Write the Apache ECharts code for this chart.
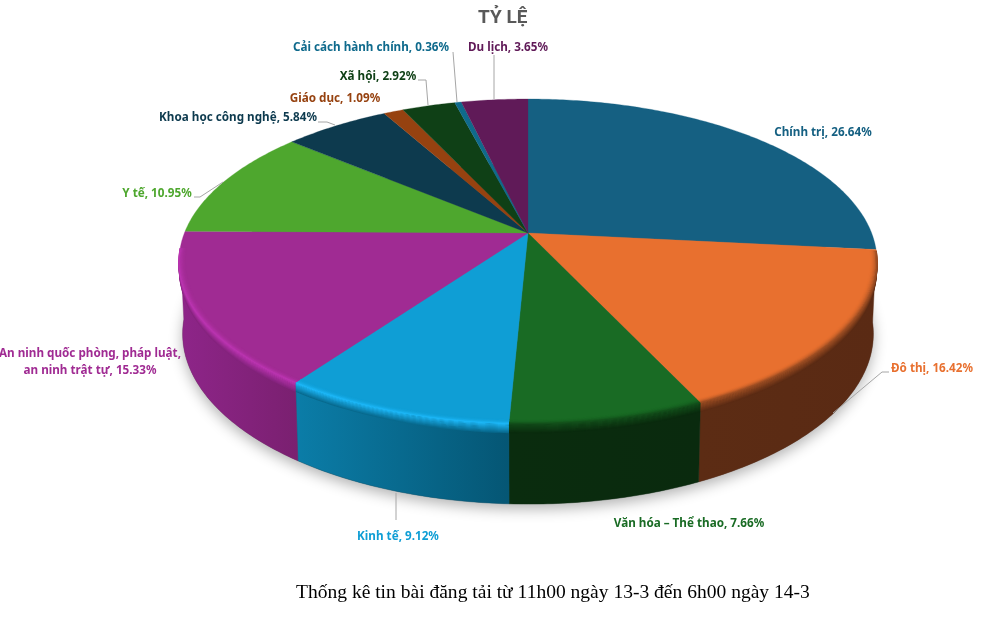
<!DOCTYPE html>
<html><head><meta charset="utf-8">
<style>html,body{margin:0;padding:0;background:#fff}#c{width:1002px;height:642px}</style>
<script src="https://cdn.jsdelivr.net/npm/echarts@6/dist/echarts.min.js"></script>
</head><body><div id="c"></div>
<script>
const categories = ['Chính trị','Đô thị','Văn hóa – Thể thao','Kinh tế','An ninh quốc phòng, pháp luật,\nan ninh trật tự','Y tế','Khoa học công nghệ','Giáo dục','Xã hội','Cải cách hành chính','Du lịch'];
const values = [26.64,16.42,7.66,9.12,15.33,10.95,5.84,1.09,2.92,0.36,3.65];
const topColors = ['#156082','#E8702F','#196B24','#0F9ED5','#A02B93','#4EA72E','#0D3A4E','#964210','#0F4016','#0F6A8C','#601A58'];
const wallLeft = ['#0D3C52','#5C2C14','#0A2C0E','#0B7DA8','#8E2589','#2E641B','#082330','#5A280A','#09260D','#063C54','#3A1035'];
const wallRight = ['#0C3A50','#5A2A14','#0A2A0E','#055674','#7A2070','#2E641B','#082330','#5A280A','#09260D','#063C54','#3A1035'];
const rimColors = ['#0E4058','#9A4C22','#124E1A','#1CB6F6','#BA34B0','#4EA72E','#0D3A4E','#964210','#0F4016','#0F6A8C','#601A58'];
const labelCenters = [[823,132.5],[932,368.5],[689,523.5],[398,536.5],[90,362.5],[157,193.5],[238,117.5],[335,98.5],[378,77],[371,47.5],[508,47.5]];
const leaderLines = [null,[[889,372],[882,372],[833,413]],null,[[396,493],[396,520]],null,[[194,197],[200,197],[223,182]],[[318,122],[327,122],[335,125]],null,[[418,80],[426,80],[428,105]],[[453,52],[457,102]],[[494,55],[494,99]]];
const titleText = 'TỶ LỆ';
const captionText = 'Thống kê tin bài đăng tải từ 11h00 ngày 13-3 đến 6h00 ngày 14-3';

// perspective projection of the pie's top and bottom faces
const CX = 528;
const TOP = {a:343.6, b:157.5, cy:233, p:0.1755};
const BOT = {a:340, b:165, cy:304, p:0.1755};
const total = values.reduce((s,v)=>s+v,0);
const bounds = [0];
values.forEach((v,i)=>bounds.push(bounds[i]+v/total*Math.PI*2));

function project(f,th,r){
  const u=Math.sin(th)*r, v=Math.cos(th)*r, w=1+f.p*v;
  return [CX+f.a*u/w, f.cy-f.b*v/w];
}
function rimPoint(th,r,t){
  const a=project(TOP,th,r), b=project(BOT,th,r);
  return [a[0]+(b[0]-a[0])*t, a[1]+(b[1]-a[1])*t];
}
function arc(a0,a1,r,t){
  const n=Math.max(2,Math.ceil((a1-a0)/0.012)), pts=[];
  for(let i=0;i<=n;i++) pts.push(rimPoint(a0+(a1-a0)*i/n,r,t));
  return pts;
}
const hex=c=>[1,3,5].map(i=>parseInt(c.substr(i,2),16));
function mix(c1,c2,m){
  const a=hex(c1),b=hex(c2);
  return '#'+a.map((x,i)=>Math.round(x+(b[i]-x)*m).toString(16).padStart(2,'0')).join('');
}
const FRONT_START = Math.PI*0.535, FRONT_END = Math.PI*1.47;

function renderShadow(){
  return {type:'polygon',shape:{points:arc(0,Math.PI*2,1,1)},
    style:{fill:'#777',shadowBlur:14,shadowColor:'rgba(0,0,0,0.30)',shadowOffsetY:5,shadowOffsetX:0}};
}
function renderWall(params,api){
  const i=params.dataIndex, a0=Math.max(bounds[i],FRONT_START), a1=Math.min(bounds[i+1],FRONT_END);
  if(a1<=a0) return {type:'group',children:[]};
  const top=arc(a0,a1,1,0), bot=arc(a0,a1,1,1);
  const xs=top.concat(bot).map(p=>p[0]);
  const minX=Math.min(...xs), maxX=Math.max(...xs);
  return {type:'polygon',shape:{points:top.concat(bot.reverse())},
    style:{fill:{type:'linear',x:minX,y:0,x2:maxX,y2:0,global:true,
      colorStops:[{offset:0,color:wallLeft[i]},{offset:1,color:wallRight[i]}]},
      stroke:wallRight[i],lineWidth:0.4}};
}
function renderTop(params,api){
  const i=params.dataIndex;
  const pts=[project(TOP,0,0)].concat(arc(bounds[i],bounds[i+1],1,0));
  return {type:'polygon',shape:{points:pts},style:{fill:topColors[i],stroke:topColors[i],lineWidth:0.3}};
}
function renderBevel(params,api){
  const i=params.dataIndex, a0=Math.max(bounds[i],FRONT_START), a1=Math.min(bounds[i+1],FRONT_END);
  if(a1<=a0) return {type:'group',children:[]};
  const kids=[];
  const wall=mix(wallLeft[i],wallRight[i],0.5);
  const outer=9;
  for(let k=outer;k>=1;k--){
    const m=k/outer;
    kids.push({type:'polyline',shape:{points:arc(a0,a1,1,0.11*m)},
      style:{fill:null,stroke:mix(rimColors[i],wall,m),lineWidth:1.2}});
  }
  const inner=8;
  for(let k=0;k<inner;k++){
    const m=(k+1)/inner;
    kids.push({type:'polyline',shape:{points:arc(a0,a1,0.98+0.02*m,0)},
      style:{fill:null,stroke:mix(topColors[i],rimColors[i],m*m),lineWidth:1.2}});
  }
  return {type:'group',children:kids};
}
const LABEL_FONT = '"Noto Sans", Roboto, sans-serif';
function renderLabel(params,api){
  const i=params.dataIndex, kids=[];
  if(leaderLines[i]) kids.push({type:'polyline',shape:{points:leaderLines[i]},
      style:{fill:null,stroke:'#A6A6A6',lineWidth:1}});
  kids.push({type:'text',x:labelCenters[i][0],y:labelCenters[i][1],
    style:{text:categories[i]+', '+api.value(0).toFixed(2)+'%',fill:topColors[i],
      font:'bold 11.7px '+LABEL_FONT,align:'center',verticalAlign:'middle',lineHeight:17}});
  return {type:'group',children:kids};
}
const chart = echarts.init(document.getElementById('c'),null,{renderer:'canvas'});
const base = {type:'custom',coordinateSystem:'none',silent:true,animation:false,clip:false,data:values.map(v=>[v])};
chart.setOption({
  backgroundColor:'#fff',animation:false,
  title:{text:titleText,left:473,top:4,textStyle:{fontFamily:'Roboto, sans-serif',fontSize:19,fontWeight:'bold',color:'#595959'}},
  series:[
    Object.assign({},base,{z:1,data:[[total]],renderItem:renderShadow}),
    Object.assign({},base,{z:2,renderItem:renderWall}),
    Object.assign({},base,{z:3,renderItem:renderTop}),
    Object.assign({},base,{z:4,renderItem:renderBevel}),
    Object.assign({},base,{z:5,renderItem:renderLabel})
  ],
  graphic:[{type:'text',left:296,top:583,style:{text:captionText,fill:'#000',font:'19.55px "Liberation Serif", serif'}}]
});
</script></body></html>
